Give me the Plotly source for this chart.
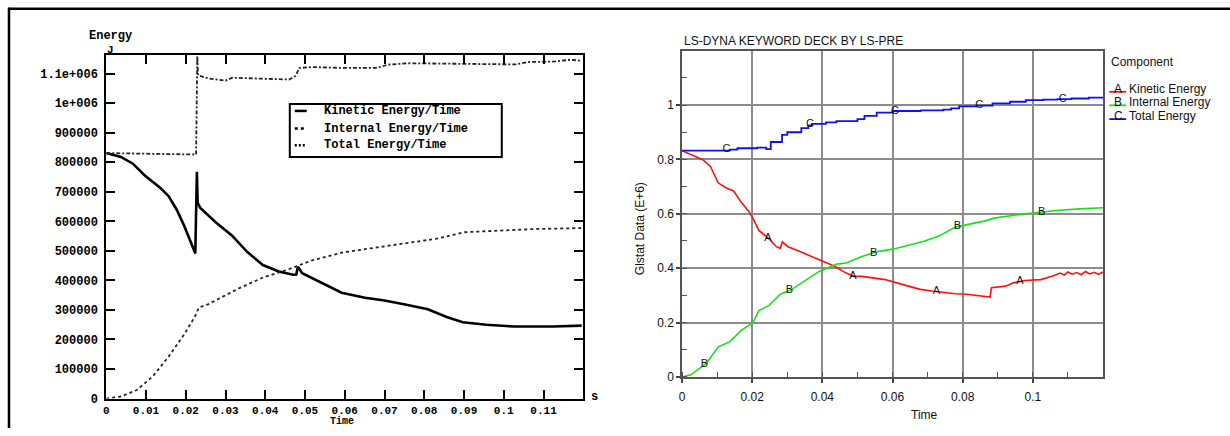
import numpy as np
import plotly.graph_objects as go

# ---------------- Left panel data (Energy in J vs Time in s) ----------------
left_kin_t = [0, 0.0037, 0.0067, 0.0097, 0.0137, 0.0157, 0.0177, 0.0196, 0.0211, 0.0224, 0.0228, 0.0230,
              0.0233, 0.0236, 0.0276, 0.0316, 0.0355, 0.0394, 0.0434, 0.0470, 0.0478, 0.0482, 0.0493,
              0.0532, 0.0592, 0.0651, 0.0700, 0.0749, 0.0809, 0.0858, 0.0897, 0.0956, 0.1025, 0.1124, 0.1196]
left_kin_e = [831000, 818000, 795000, 755000, 712000, 685000, 640000, 585000, 535000, 491000, 768000, 662000,
              655000, 646000, 596000, 552000, 496000, 452000, 430000, 419000, 420000, 446000, 424000,
              397000, 358000, 341000, 332000, 319000, 302000, 275000, 258000, 250000, 244000, 244000, 247000]

left_int_t = [0, 0.0038, 0.0077, 0.0117, 0.0157, 0.0197, 0.0224, 0.0233, 0.0256, 0.0295, 0.0335, 0.0395,
              0.0454, 0.0514, 0.0593, 0.0673, 0.0752, 0.0831, 0.0901, 0.0980, 0.1079, 0.1196]
left_int_e = [0, 7000, 29000, 75000, 142000, 219000, 280000, 308000, 319000, 347000, 374000, 410000,
              435000, 466000, 494000, 510000, 525000, 541000, 563000, 568000, 574000, 577000]

left_tot_t = [0, 0.0138, 0.0226, 0.0229, 0.0231, 0.0259, 0.0300, 0.0317, 0.0393, 0.0460, 0.0476, 0.0486,
              0.0518, 0.0600, 0.0682, 0.0707, 0.0762, 0.0930, 0.1030, 0.1060, 0.1130, 0.1168, 0.1196]
left_tot_e = [831000, 829000, 826000, 1160000, 1094000, 1083000, 1076000, 1086000, 1083000, 1080000, 1092000, 1119000,
              1122000, 1119000, 1119000, 1130000, 1135000, 1131000, 1131000, 1139000, 1141000, 1147000, 1143000]

left_x_ticks = [0, 0.01, 0.02, 0.03, 0.04, 0.05, 0.06, 0.07, 0.08, 0.09, 0.1, 0.11]
left_x_labels = ["0", "0.01", "0.02", "0.03", "0.04", "0.05", "0.06", "0.07", "0.08", "0.09", "0.1", "0.11"]
left_y_ticks = [0, 100000, 200000, 300000, 400000, 500000, 600000, 700000, 800000, 900000, 1000000, 1100000]
left_y_labels = ["0", "100000", "200000", "300000", "400000", "500000", "600000", "700000", "800000",
                 "900000", "1e+006", "1.1e+006"]
left_legend_names = ["Kinetic Energy/Time", "Internal Energy/Time", "Total Energy/Time"]

# ---------------- Right panel data (Glstat Data E+6 vs Time) ----------------
right_kin_t = [0, 0.0059, 0.0081, 0.0103, 0.0125, 0.0147, 0.0169, 0.0192, 0.0203, 0.0219, 0.0236, 0.0252,
               0.0269, 0.0280, 0.0286, 0.0302, 0.0336, 0.0369, 0.0402, 0.0435, 0.0468, 0.0490, 0.0513,
               0.0546, 0.0579, 0.0612, 0.0646, 0.0679, 0.0712, 0.0745, 0.0779, 0.0812, 0.0845, 0.0878,
               0.0882, 0.0922, 0.0945, 0.0978, 0.1022, 0.1055, 0.1078, 0.1090, 0.1100, 0.1112, 0.1125,
               0.1138, 0.1150, 0.1162, 0.1175, 0.1188, 0.1200]
right_kin_e = [0.832, 0.799, 0.774, 0.714, 0.696, 0.684, 0.642, 0.606, 0.581, 0.539, 0.521, 0.503,
               0.479, 0.473, 0.497, 0.479, 0.461, 0.443, 0.425, 0.407, 0.382, 0.370, 0.370,
               0.364, 0.358, 0.346, 0.334, 0.322, 0.316, 0.310, 0.306, 0.304, 0.298, 0.294,
               0.328, 0.334, 0.346, 0.355, 0.358, 0.370, 0.382, 0.375, 0.386, 0.378, 0.384,
               0.376, 0.388, 0.379, 0.385, 0.377, 0.386]

right_int_t = [0, 0.0025, 0.0070, 0.0103, 0.0136, 0.0169, 0.0203, 0.0219, 0.0247, 0.0280, 0.0313, 0.0347,
               0.0391, 0.0441, 0.0468, 0.0513, 0.0557, 0.0601, 0.0646, 0.0690, 0.0734, 0.0779, 0.0823,
               0.0867, 0.0889, 0.0934, 0.0978, 0.1022, 0.1066, 0.1133, 0.1200]
right_int_e = [0, 0.008, 0.051, 0.111, 0.129, 0.171, 0.201, 0.244, 0.262, 0.304, 0.322, 0.352,
               0.388, 0.415, 0.419, 0.443, 0.461, 0.470, 0.485, 0.499, 0.519, 0.551, 0.563,
               0.575, 0.584, 0.593, 0.600, 0.606, 0.612, 0.618, 0.622]

right_tot_t = [0, 0.0136, 0.0158, 0.0214, 0.0240, 0.0253, 0.0285, 0.0300, 0.0340, 0.0360, 0.0370, 0.0410,
               0.0440, 0.0500, 0.0520, 0.0555, 0.0600, 0.0680, 0.0745, 0.0767, 0.0790, 0.0840, 0.0885,
               0.0935, 0.0980, 0.1030, 0.1070, 0.1110, 0.1160, 0.1200]
right_tot_e = [0.832, 0.836, 0.841, 0.843, 0.838, 0.864, 0.890, 0.900, 0.915, 0.925, 0.931, 0.936,
               0.941, 0.948, 0.960, 0.972, 0.978, 0.980, 0.983, 0.988, 0.995, 0.998, 1.006,
               1.012, 1.018, 1.020, 1.022, 1.024, 1.027, 1.029]

right_x_ticks = [0, 0.02, 0.04, 0.06, 0.08, 0.1]
right_x_labels = ["0", "0.02", "0.04", "0.06", "0.08", "0.1"]
right_y_ticks = [0, 0.2, 0.4, 0.6, 0.8, 1.0]
right_y_labels = ["0", "0.2", "0.4", "0.6", "0.8", "1"]

label_A_t = [0.0245, 0.0487, 0.0725, 0.0963]
label_B_t = [0.0064, 0.0306, 0.0546, 0.0785, 0.1025]
label_C_t = [0.0127, 0.0365, 0.0607, 0.0847, 0.1085]
right_legend_names = ["Kinetic Energy", "Internal Energy", "Total Energy"]
right_legend_letters = ["A", "B", "C"]
right_colors = ["#ff1010", "#19e019", "#1010f0"]

W, H = 1230, 436
def px(x): return x / W
def py(y): return 1 - y / H

MONO = "Liberation Mono"
SANS = "Liberation Sans"

fig = go.Figure()

# Left traces
fig.add_trace(go.Scatter(x=left_kin_t, y=left_kin_e, mode="lines", name=left_legend_names[0],
                         line=dict(color="black", width=2.6), xaxis="x", yaxis="y"))
fig.add_trace(go.Scatter(x=left_int_t, y=left_int_e, mode="lines", name=left_legend_names[1],
                         line=dict(color="#222", width=1.8, dash="3px,3px"), xaxis="x", yaxis="y"))
fig.add_trace(go.Scatter(x=left_tot_t, y=left_tot_e, mode="lines", name=left_legend_names[2],
                         line=dict(color="#222", width=1.8, dash="4px,2px,2px,2px"), xaxis="x", yaxis="y"))

# Right traces
fig.add_trace(go.Scatter(x=right_kin_t, y=right_kin_e, mode="lines", name=right_legend_names[0],
                         line=dict(color=right_colors[0], width=1.6), xaxis="x2", yaxis="y2"))
fig.add_trace(go.Scatter(x=right_int_t, y=right_int_e, mode="lines", name=right_legend_names[1],
                         line=dict(color=right_colors[1], width=1.6), xaxis="x2", yaxis="y2"))
fig.add_trace(go.Scatter(x=right_tot_t, y=right_tot_e, mode="lines", name=right_legend_names[2],
                         line=dict(color=right_colors[2], width=1.8, shape="hv"), xaxis="x2", yaxis="y2"))

# Curve letter labels
for letters, ts, st, se in [("A", label_A_t, right_kin_t, right_kin_e),
                            ("B", label_B_t, right_int_t, right_int_e),
                            ("C", label_C_t, right_tot_t, right_tot_e)]:
    ys = np.interp(ts, st, se)
    fig.add_trace(go.Scatter(x=ts, y=ys, mode="text", text=[letters] * len(ts),
                             textposition="middle center",
                             textfont=dict(family=SANS, size=11, color="#111"),
                             xaxis="x2", yaxis="y2", hoverinfo="skip"))

left_font = dict(family=MONO, size=12, color="black", weight="bold")
left_small = dict(family=MONO, size=11, color="black", weight="bold")
left_tiny = dict(family=MONO, size=10, color="black", weight="bold")
right_font = dict(family=SANS, size=12, color="#111")

fig.update_layout(
    width=W, height=H, margin=dict(l=0, r=0, t=0, b=0),
    paper_bgcolor="white", plot_bgcolor="white", showlegend=False,
    xaxis=dict(domain=[px(103.5), px(581.7)], range=[0, 0.12], anchor="y",
               tickmode="array", tickvals=left_x_ticks, ticktext=left_x_labels,
               ticks="inside", ticklen=9, tickwidth=2, tickcolor="black",
               showline=True, linewidth=2, linecolor="black", mirror="ticks",
               showgrid=False, zeroline=False, tickfont=left_small, ticklabelstandoff=0),
    yaxis=dict(domain=[py(406), py(55.7)], range=[0, 1164000], anchor="x",
               tickmode="array", tickvals=left_y_ticks, ticktext=left_y_labels,
               ticks="inside", ticklen=9, tickwidth=2, tickcolor="black",
               showline=True, linewidth=2, linecolor="black", mirror="ticks",
               showgrid=False, zeroline=False, tickfont=left_font, ticklabelstandoff=4),
    xaxis2=dict(domain=[px(680.7), px(1102.7)], range=[0, 0.12], anchor="y2",
                tickmode="array", tickvals=right_x_ticks, ticktext=right_x_labels,
                ticks="outside", ticklen=4, tickwidth=1.5, tickcolor="#444",
                showline=True, linewidth=1.5, linecolor="#555", mirror=True,
                showgrid=True, gridcolor="#8c8c8c", gridwidth=1.5, zeroline=False,
                minor=dict(tickmode="linear", tick0=0, dtick=0.01, ticks="inside", ticklen=5,
                           tickwidth=1.2, tickcolor="#555", showgrid=False),
                tickfont=right_font, ticklabelstandoff=4),
    yaxis2=dict(domain=[py(384), py(51.6)], range=[0, 1.2], anchor="x2",
                tickmode="array", tickvals=right_y_ticks, ticktext=right_y_labels,
                ticks="outside", ticklen=4, tickwidth=1.5, tickcolor="#444",
                showline=True, linewidth=1.5, linecolor="#555", mirror=True,
                showgrid=True, gridcolor="#8c8c8c", gridwidth=1.5, zeroline=False,
                minor=dict(tickmode="linear", tick0=0, dtick=0.1, ticks="inside", ticklen=5,
                           tickwidth=1.2, tickcolor="#555", showgrid=False),
                tickfont=right_font),
)

ann = []
shapes = []
def text(x, y, s, font, xanchor="center", yanchor="middle", angle=0, pad=1):
    ann.append(dict(x=px(x), y=py(y), xref="paper", yref="paper", text=s, showarrow=False,
                    xanchor=xanchor, yanchor=yanchor, font=font, textangle=angle, borderpad=pad))

# Outer frame
shapes.append(dict(type="line", xref="paper", yref="paper", x0=px(5), x1=1, y0=py(9), y1=py(9),
                   line=dict(color="black", width=2.5)))
shapes.append(dict(type="line", xref="paper", yref="paper", x0=px(6), x1=px(6), y0=py(8), y1=0,
                   line=dict(color="black", width=2.5)))

# Left panel labels
text(108, 37, "Energy", left_font)
text(107.5, 51, "J", left_small)
text(593, 404, "s", left_font)
text(340, 436, "Time", left_tiny, yanchor="bottom", pad=0)

# Left legend box
shapes.append(dict(type="rect", xref="paper", yref="paper", x0=px(287.5), x1=px(500), y0=py(160), y1=py(106),
                   line=dict(color="black", width=2), fillcolor="white", layer="above"))
left_dashes = ["solid", "3px,3px", "2px,2px"]
left_rows = [113, 131, 148]
for name, dash, yy in zip(left_legend_names, left_dashes, left_rows):
    shapes.append(dict(type="line", xref="paper", yref="paper", x0=px(292.5), x1=px(304.5),
                       y0=py(yy), y1=py(yy), line=dict(color="black", width=2.5, dash=dash)))
    text(320, yy, name, left_font, xanchor="left")

# Right panel labels
text(681, 42, "LS-DYNA KEYWORD DECK BY LS-PRE", dict(family=SANS, size=12, color="#111"), xanchor="left")
text(638, 233, "Glstat Data (E+6)", dict(family=SANS, size=12, color="#111"), angle=-90)
text(924, 423, "Time", dict(family=SANS, size=12, color="#111"))
text(1109, 63, "Component", dict(family=SANS, size=12, color="#111"), xanchor="left")
right_rows = [90.5, 104.3, 118.3]
for letter, name, col, yy in zip(right_legend_letters, right_legend_names, right_colors, right_rows):
    shapes.append(dict(type="line", xref="paper", yref="paper", x0=px(1109), x1=px(1126),
                       y0=py(yy + 3), y1=py(yy + 3), line=dict(color=col, width=1.8)))
    text(1118, yy, letter, dict(family=SANS, size=12, color="#111"))
    text(1127, yy, name, dict(family=SANS, size=12, color="#111"), xanchor="left")

fig.update_layout(annotations=ann, shapes=shapes)

post = """
var st = document.createElement('style');
st.textContent = 'html,body{margin:0!important;padding:0!important;overflow:hidden;}';
document.head.appendChild(st);
"""
fig.write_html("out.html", config={"displayModeBar": False}, post_script=post)
